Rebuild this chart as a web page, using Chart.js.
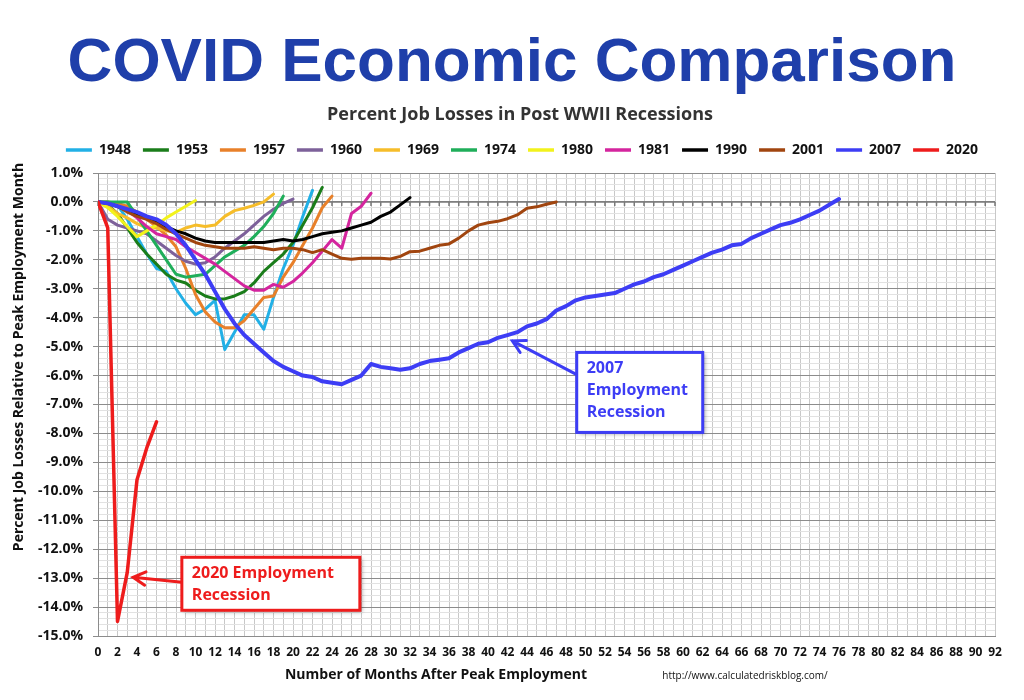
<!DOCTYPE HTML>
<html>
<head>
  <meta name='viewport' content='width=device-width, initial-scale=1'>
  <title>COVID Economic Comparison</title>
  <script src='https://cdn.jsdelivr.net/npm/chart.js'></script>
  <style>
    body {
      margin: 0;
      padding: 0;
      background-color: #fff;
    }
    #covidChart {
      display: block;
    }
  </style>
</head>
<body>
  <canvas id='covidChart' width='1024' height='700'></canvas>
  <script>
    // percent job losses relative to peak employment month, one value per month
    var r1948 = [0, 0, -0.1, -0.6, -1.2, -1.8, -2.3, -2.4, -3.0, -3.5, -3.9, -3.7, -3.4, -5.1, -4.5, -3.9, -3.9, -4.4, -3.3, -2.3, -1.5, -0.5, 0.4];
    var r1953 = [0, -0.1, -0.4, -0.9, -1.4, -1.8, -2.15, -2.5, -2.7, -2.8, -3.05, -3.25, -3.35, -3.35, -3.25, -3.1, -2.8, -2.4, -2.1, -1.8, -1.4, -0.8, -0.2, 0.5];
    var r1957 = [0, 0, -0.05, -0.15, -0.35, -0.6, -0.85, -1.15, -1.55, -2.3, -3.2, -3.8, -4.15, -4.35, -4.35, -4.1, -3.7, -3.3, -3.25, -2.6, -2.1, -1.5, -0.9, -0.2, 0.2];
    var r1960 = [0, -0.6, -0.8, -0.9, -1.0, -1.1, -1.35, -1.6, -1.85, -2.05, -2.15, -2.1, -1.9, -1.6, -1.35, -1.1, -0.8, -0.5, -0.25, -0.05, 0.1];
    var r1969 = [0, -0.15, -0.4, -0.55, -0.75, -0.9, -0.9, -1.0, -1.05, -0.9, -0.8, -0.85, -0.8, -0.5, -0.3, -0.22, -0.12, 0.0, 0.27];
    var r1974 = [0, 0, 0, 0, -0.5, -1.0, -1.5, -2.0, -2.5, -2.6, -2.55, -2.5, -2.2, -1.9, -1.7, -1.5, -1.2, -0.85, -0.4, 0.2];
    var r1980 = [0, -0.2, -0.5, -0.85, -1.2, -1.0, -0.8, -0.55, -0.35, -0.15, 0.05];
    var r1981 = [0, -0.05, -0.15, -0.3, -0.55, -0.85, -1.1, -1.2, -1.3, -1.55, -1.75, -1.95, -2.15, -2.4, -2.65, -2.9, -3.05, -3.05, -2.85, -2.95, -2.75, -2.45, -2.1, -1.7, -1.3, -1.6, -0.4, -0.15, 0.3];
    var r1990 = [0, -0.05, -0.15, -0.3, -0.4, -0.55, -0.7, -0.85, -1.0, -1.1, -1.25, -1.35, -1.4, -1.4, -1.4, -1.4, -1.4, -1.4, -1.35, -1.3, -1.35, -1.3, -1.2, -1.1, -1.05, -1.0, -0.9, -0.8, -0.7, -0.5, -0.35, -0.1, 0.15];
    var r2001 = [0, -0.05, -0.15, -0.35, -0.5, -0.6, -0.75, -0.95, -1.1, -1.25, -1.4, -1.5, -1.55, -1.6, -1.6, -1.6, -1.55, -1.6, -1.65, -1.6, -1.6, -1.65, -1.75, -1.65, -1.8, -1.95, -1.98, -1.95, -1.95, -1.95, -1.97, -1.88, -1.72, -1.7, -1.6, -1.5, -1.45, -1.25, -1.0, -0.8, -0.72, -0.67, -0.58, -0.45, -0.22, -0.17, -0.08, 0.0];
    var r2007 = [0, -0.05, -0.15, -0.25, -0.35, -0.5, -0.6, -0.8, -1.1, -1.5, -2.0, -2.5, -3.1, -3.7, -4.2, -4.6, -4.9, -5.2, -5.5, -5.7, -5.85, -6.0, -6.05, -6.2, -6.25, -6.3, -6.15, -6.0, -5.6, -5.7, -5.75, -5.8, -5.75, -5.6, -5.5, -5.45, -5.4, -5.2, -5.05, -4.9, -4.85, -4.7, -4.6, -4.5, -4.3, -4.2, -4.05, -3.75, -3.6, -3.4, -3.3, -3.25, -3.2, -3.15, -3.0, -2.85, -2.75, -2.6, -2.5, -2.35, -2.2, -2.05, -1.9, -1.75, -1.65, -1.5, -1.45, -1.25, -1.1, -0.95, -0.8, -0.72, -0.6, -0.45, -0.3, -0.1, 0.1];
    var r2020 = [0, -0.9, -14.5, -12.8, -9.6, -8.5, -7.6];

    var recessionNames = ['1948', '1953', '1957', '1960', '1969', '1974', '1980', '1981', '1990', '2001', '2007', '2020'];
    var recessionValues = [r1948, r1953, r1957, r1960, r1969, r1974, r1980, r1981, r1990, r2001, r2007, r2020];
    var recessionColors = ['#22b0e6', '#1a7d1a', '#e8802a', '#7d619a', '#f6bd2a', '#1fae5a', '#f2f21c', '#d4259e', '#000000', '#a1450f', '#3d3df5', '#ee1c1c'];
    var lineWidths = [3, 3, 3, 3, 3, 3, 3, 3, 3, 3, 4, 3.5];

    var monthMin = 0, monthMax = 92;
    var lossMin = -15, lossMax = 1;

    var FONT = "'Open Sans', sans-serif";
    var SUBTITLE = 'Percent Job Losses in Post WWII Recessions';

    var datasets = recessionNames.map(function(name, i) {
      return {
        label: name,
        data: recessionValues[i].map(function(v, m) { return {x: m, y: v}; }),
        borderColor: recessionColors[i],
        backgroundColor: recessionColors[i],
        borderWidth: lineWidths[i],
        pointRadius: 0,
        tension: 0,
        fill: false,
        borderJoinStyle: 'round',
        borderCapStyle: 'round',
        order: recessionNames.length - i
      };
    });

    // callout boxes, anchored in data units (month, percent)
    var callouts = [
      {lines: ['2007', 'Employment', 'Recession'], color: '#3d3df5', box: [49.1, -5.2], w: 126, h: 80, tail: [49.1, -5.97], tip: [42.5, -4.8]},
      {lines: ['2020 Employment', 'Recession'], color: '#ee1c1c', box: [8.6, -12.28], w: 178, h: 53, tail: [8.6, -13.14], tip: [3.6, -12.97]}
    ];

    function isWhole(v) {
      return Math.abs(v - Math.round(v)) < 1e-6;
    }

    // a bit more room under the legend, and nudge the header boxes like the original
    var nudgePlugin = {
      id: 'nudge',
      afterInit: function(chart) {
        var lg = chart.legend;
        if (!lg) return;
        var fit = lg.fit;
        lg.fit = function() {
          fit.call(this);
          this.height += 11;
        };
      },
      afterLayout: function(chart) {
        chart.boxes.forEach(function(b) {
          if (b === chart.legend) {
            b.top += 5; b.bottom += 5;
            b.left += 10; b.right += 10;
          } else if (b.options && b.options.text === SUBTITLE) {
            b.left += 8; b.right += 8;
          }
        });
      }
    };

    var extrasPlugin = {
      id: 'extras',
      beforeDatasetsDraw: function(chart) {
        // dark zero line with month tick marks
        var c = chart.ctx, xs = chart.scales.x, ys = chart.scales.y;
        var y0 = ys.getPixelForValue(0);
        c.save();
        c.strokeStyle = '#7a7a7a';
        c.lineWidth = 1.5;
        c.beginPath();
        c.moveTo(chart.chartArea.left, y0);
        c.lineTo(chart.chartArea.right, y0);
        for (var m = monthMin; m <= monthMax; m++) {
          var px = xs.getPixelForValue(m);
          c.moveTo(px, y0);
          c.lineTo(px, y0 + 4);
        }
        c.stroke();
        c.restore();
      },
      afterDraw: function(chart) {
        var c = chart.ctx, xs = chart.scales.x, ys = chart.scales.y;
        c.save();

        // axis titles and source
        c.fillStyle = '#111';
        c.font = 'bold 14px ' + FONT;
        c.textAlign = 'center';
        c.textBaseline = 'middle';
        c.fillText('Number of Months After Peak Employment', 436, 675);
        c.font = '10px ' + FONT;
        c.fillText('http://www.calculatedriskblog.com/', 745, 676);
        c.save();
        c.translate(19, 357);
        c.rotate(-Math.PI / 2);
        c.font = 'bold 14px ' + FONT;
        c.fillText('Percent Job Losses Relative to Peak Employment Month', 0, 0);
        c.restore();

        // callouts
        callouts.forEach(function(co) {
          var bx = xs.getPixelForValue(co.box[0]), by = ys.getPixelForValue(co.box[1]);
          var tx = xs.getPixelForValue(co.tail[0]), ty = ys.getPixelForValue(co.tail[1]);
          var hx = xs.getPixelForValue(co.tip[0]), hy = ys.getPixelForValue(co.tip[1]);
          c.strokeStyle = co.color;
          c.lineWidth = 3;
          c.lineCap = 'round';
          c.beginPath();
          c.moveTo(tx, ty);
          c.lineTo(hx, hy);
          var ang = Math.atan2(ty - hy, tx - hx);
          c.moveTo(hx + 14 * Math.cos(ang - 0.5), hy + 14 * Math.sin(ang - 0.5));
          c.lineTo(hx, hy);
          c.lineTo(hx + 14 * Math.cos(ang + 0.5), hy + 14 * Math.sin(ang + 0.5));
          c.stroke();
          c.fillStyle = '#fff';
          c.shadowColor = 'rgba(0,0,0,0.35)';
          c.shadowBlur = 4;
          c.shadowOffsetX = 2;
          c.shadowOffsetY = 2;
          c.fillRect(bx, by, co.w, co.h);
          c.shadowColor = 'transparent';
          c.strokeRect(bx, by, co.w, co.h);
          c.fillStyle = co.color;
          c.font = 'bold 16px ' + FONT;
          c.textAlign = 'left';
          co.lines.forEach(function(t, k) {
            c.fillText(t, bx + 10, by + 16 + k * 22);
          });
        });
        c.restore();
      }
    };

    var ctx = document.getElementById('covidChart').getContext('2d');
    var covidChart = new Chart(ctx, {
      type: 'line',
      data: {datasets: datasets},
      plugins: [nudgePlugin, extrasPlugin],
      options: {
        responsive: false,
        animation: false,
        layout: {padding: {left: 29, right: 29, top: 0, bottom: 0}},
        plugins: {
          title: {
            display: true,
            text: 'COVID Economic Comparison',
            color: '#1f3faa',
            font: {family: "'Liberation Sans', Arial, sans-serif", size: 62, weight: 'bold'},
            padding: {top: 27, bottom: 0}
          },
          subtitle: {
            display: true,
            text: SUBTITLE,
            color: '#333',
            font: {family: FONT, size: 18, weight: 'bold'},
            padding: {top: 3, bottom: 0}
          },
          legend: {
            display: true,
            labels: {
              color: '#111',
              font: {family: FONT, size: 14, weight: 'bold'},
              boxWidth: 26,
              boxHeight: 3.5,
              padding: 12,
              sort: function(a, b) { return a.datasetIndex - b.datasetIndex; },
              generateLabels: function(chart) {
                var items = Chart.defaults.plugins.legend.labels.generateLabels(chart);
                return items.map(function(it) {
                  it.lineWidth = 0;
                  it.fillStyle = it.strokeStyle;
                  return it;
                });
              }
            }
          },
          tooltip: {enabled: false}
        },
        scales: {
          x: {
            type: 'linear',
            min: monthMin,
            max: monthMax,
            afterFit: function(scale) { scale.height = 64; },
            border: {color: '#8c8c8c'},
            grid: {color: '#c8c8c8', drawTicks: false},
            ticks: {
              stepSize: 1,
              autoSkip: false,
              maxRotation: 0,
              padding: 9,
              color: '#111',
              font: {family: FONT, size: 12, weight: 'bold'},
              callback: function(v) { return v % 2 === 0 ? String(v) : ''; }
            }
          },
          y: {
            min: lossMin,
            max: lossMax,
            afterFit: function(scale) { scale.width = 69; },
            border: {color: '#8c8c8c'},
            grid: {
              color: function(c) { return isWhole(c.tick.value) ? '#8c8c8c' : '#e2e2e2'; },
              tickColor: function(c) { return isWhole(c.tick.value) ? '#8c8c8c' : 'rgba(0,0,0,0)'; },
              tickLength: 5
            },
            ticks: {
              stepSize: 0.2,
              autoSkip: false,
              padding: 10,
              color: '#111',
              font: {family: FONT, size: 14, weight: 'bold'},
              callback: function(v) { return isWhole(v) ? v.toFixed(1) + '%' : ''; }
            }
          }
        }
      }
    });
  </script>
</body>
</html>
